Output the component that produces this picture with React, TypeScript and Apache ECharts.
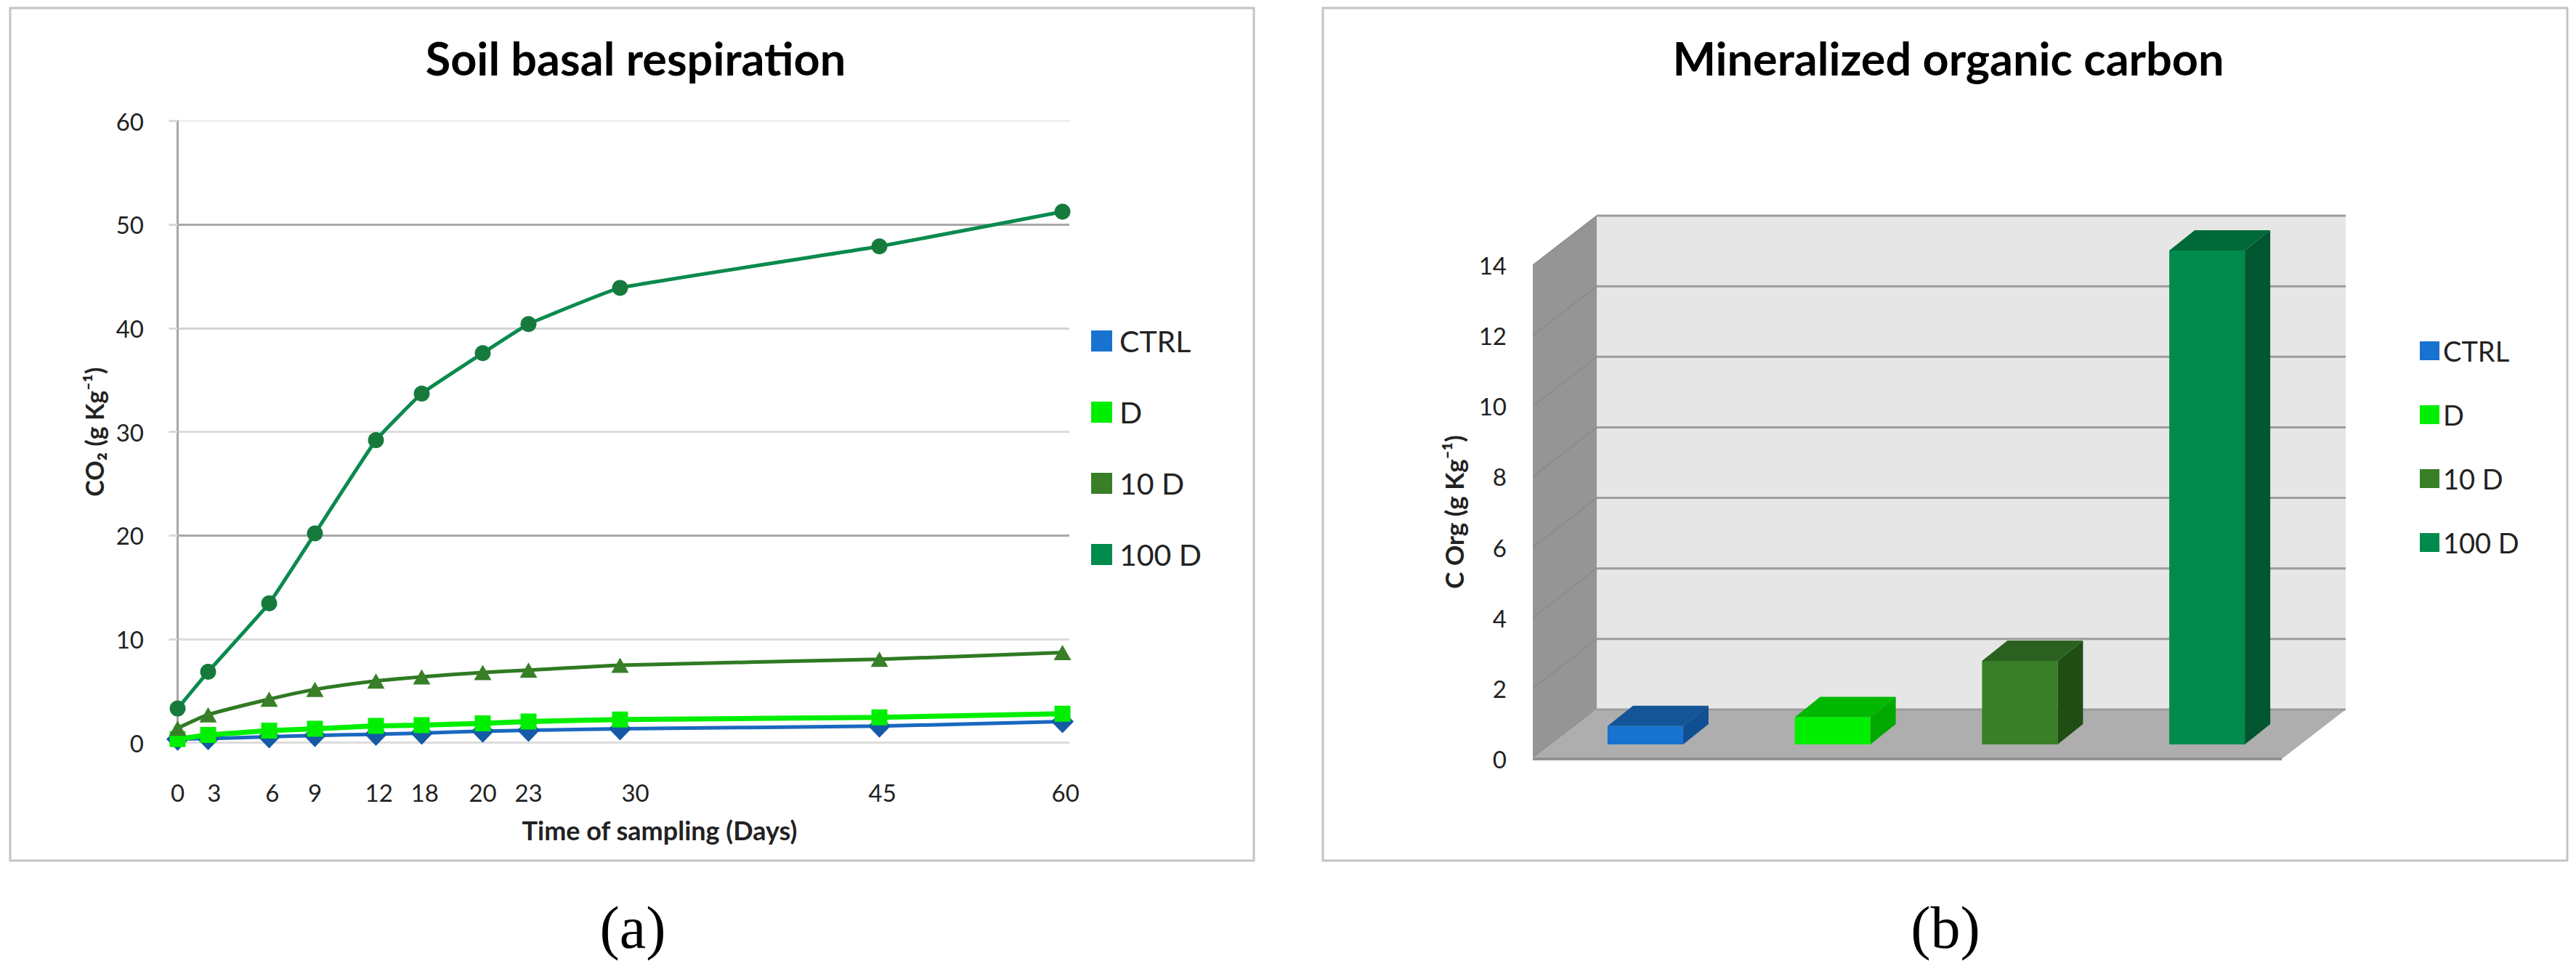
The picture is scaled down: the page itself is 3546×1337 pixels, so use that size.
import React, { useEffect, useRef } from "react";
import * as echarts from "echarts";

const seriesNames = ["CTRL", "D", "10 D", "100 D"];
const sampleLabels = ["0", "3", "6", "9", "12", "18", "20", "23", "30", "45", "60"];
// horizontal place of each sampling point on the (unevenly spaced) original axis
const samplePositions = [0, 2, 6, 9, 13, 16, 20, 23, 29, 46, 58];
const labelPositions = [0, 2.4, 6.2, 9, 13.2, 16.2, 20, 23, 30, 46.2, 58.2];
const ctrlValues = [0.35, 0.4, 0.58, 0.7, 0.82, 0.93, 1.12, 1.2, 1.35, 1.6, 2.05];
const dValues = [0.35, 0.75, 1.17, 1.35, 1.63, 1.7, 1.87, 2.05, 2.24, 2.45, 2.8];
const d10Values = [1.4, 2.7, 4.2, 5.14, 5.96, 6.36, 6.78, 7.0, 7.48, 8.06, 8.7];
const d100Values = [3.3, 6.85, 13.45, 20.2, 29.2, 33.7, 37.6, 40.4, 43.9, 47.9, 51.25];
const carbonValues = [0.52, 0.77, 2.37, 14.0];
const carbonTicks = [2, 4, 6, 8, 10, 12, 14];

const legendColors = ["#1872d0", "#00ef00", "#387f28", "#008a4c"];
const topColors = ["#135597", "#00b800", "#2a6120", "#00693a"];
const sideColors = ["#104f92", "#00a800", "#1f4d14", "#00562f"];

const FONT = "Lato";
const DEPTH_X = 88;
const DEPTH_Y = -68;

function lineSeries(i: number, values: number[], symbol: string, size: number | number[], lineColor: string, markerColor: string, smooth: number, width: number) {
  return {
    type: "line",
    name: seriesNames[i],
    xAxisIndex: 0,
    yAxisIndex: 0,
    data: samplePositions.map((p, k) => [p, values[k]]),
    symbol,
    symbolSize: size,
    showSymbol: true,
    smooth,
    clip: false,
    lineStyle: { color: lineColor, width },
    itemStyle: { color: markerColor },
    z: 3 + i,
  };
}

function barSeries(i: number) {
  return {
    type: "custom",
    name: seriesNames[i],
    xAxisIndex: 1,
    yAxisIndex: 1,
    data: [[i, carbonValues[i]]],
    encode: { x: 0, y: 1 },
    itemStyle: { color: legendColors[i] },
    z: 5,
    renderItem: (_p: any, api: any) => {
      const base = api.coord([api.value(0), 0]);
      const top = api.coord([api.value(0), api.value(1)]);
      const halfW = 52;
      const ox = 26;
      const oy = -20;
      const dx = 35;
      const dy = -28;
      const l = base[0] + ox - halfW;
      const r = base[0] + ox + halfW;
      const b = base[1] + oy;
      const t = top[1] + oy;
      return {
        type: "group",
        children: [
          { type: "polygon", shape: { points: [[l, t], [l + dx, t + dy], [r + dx, t + dy], [r, t]] }, style: { fill: topColors[i] } },
          { type: "polygon", shape: { points: [[r, t], [r + dx, t + dy], [r + dx, b + dy], [r, b]] }, style: { fill: sideColors[i] } },
          { type: "rect", shape: { x: l, y: t, width: r - l, height: b - t }, style: { fill: legendColors[i] } },
        ],
      };
    },
  };
}

const wallSeries = {
  type: "custom",
  name: "walls",
  xAxisIndex: 1,
  yAxisIndex: 1,
  data: [[0, 0]],
  encode: { x: 0, y: 1 },
  silent: true,
  z: 1,
  renderItem: (params: any, api: any) => {
    const cs = params.coordSys;
    const x0 = cs.x;
    const x1 = cs.x + cs.width;
    const y0 = api.coord([0, 0])[1];
    const yTop = api.coord([0, 14])[1];
    const children: any[] = [
      { type: "polygon", shape: { points: [[x0 + DEPTH_X, yTop + DEPTH_Y], [x1 + DEPTH_X, yTop + DEPTH_Y], [x1 + DEPTH_X, y0 + DEPTH_Y], [x0 + DEPTH_X, y0 + DEPTH_Y]] }, style: { fill: "#e6e6e6" } },
      { type: "polygon", shape: { points: [[x0, yTop], [x0 + DEPTH_X, yTop + DEPTH_Y], [x0 + DEPTH_X, y0 + DEPTH_Y], [x0, y0]] }, style: { fill: "#959595" } },
      { type: "polygon", shape: { points: [[x0, y0], [x0 + DEPTH_X, y0 + DEPTH_Y], [x1 + DEPTH_X, y0 + DEPTH_Y], [x1, y0]] }, style: { fill: "#aeaeae" } },
      { type: "line", shape: { x1: x0, y1: y0, x2: x1, y2: y0 }, style: { stroke: "#929292", lineWidth: 4 } },
      { type: "line", shape: { x1: x0 + DEPTH_X, y1: y0 + DEPTH_Y, x2: x1 + DEPTH_X, y2: y0 + DEPTH_Y }, style: { stroke: "#9c9c9c", lineWidth: 3 } },
    ];
    carbonTicks.forEach((v) => {
      const y = api.coord([0, v])[1];
      children.push({ type: "line", shape: { x1: x0 + DEPTH_X, y1: y + DEPTH_Y, x2: x1 + DEPTH_X, y2: y + DEPTH_Y }, style: { stroke: "#9c9c9c", lineWidth: 3 } });
      children.push({ type: "line", shape: { x1: x0, y1: y, x2: x0 + DEPTH_X, y2: y + DEPTH_Y }, style: { stroke: "#8a8a8a", lineWidth: 1.5 } });
    });
    return { type: "group", children };
  },
};

const option: any = {
  animation: false,
  backgroundColor: "#ffffff",
  title: [
    { text: "Soil basal respiration", left: 870, top: 43, textAlign: "center", textStyle: { fontFamily: FONT, fontWeight: "bold", fontSize: 63, color: "#000" } },
    { text: "Mineralized organic carbon", left: 2677, top: 43, textAlign: "center", textStyle: { fontFamily: FONT, fontWeight: "bold", fontSize: 63, color: "#000" } },
  ],
  legend: [
    {
      left: 1497, top: 444, orient: "vertical", icon: "rect", itemWidth: 29, itemHeight: 29, itemGap: 57,
      selectedMode: false,
      textStyle: { fontFamily: FONT, fontSize: 41, color: "#222", padding: [0, 0, 0, 5] },
      data: seriesNames.map((name, i) => ({ name, itemStyle: { color: legendColors[i] } })),
    },
    {
      left: 3326, top: 459, orient: "vertical", icon: "rect", itemWidth: 27, itemHeight: 26, itemGap: 50,
      selectedMode: false,
      textStyle: { fontFamily: FONT, fontSize: 38, color: "#222", padding: [0, 0, 0, 0] },
      data: seriesNames.map((name, i) => ({ name, itemStyle: { color: legendColors[i] } })),
    },
  ],
  grid: [
    { left: 234, top: 166.7, width: 1238, height: 856 },
    { left: 2110, top: 365, width: 1031, height: 680 },
  ],
  xAxis: [
    {
      type: "value", gridIndex: 0, min: -0.5, max: 58.45,
      name: "Time of sampling (Days)", nameLocation: "middle", nameGap: 102,
      nameTextStyle: { fontFamily: FONT, fontWeight: "bold", fontSize: 36, color: "#222", padding: [0, 0, 0, 110] },
      axisLine: { show: false }, axisTick: { show: false }, splitLine: { show: false },
      axisLabel: {
        customValues: labelPositions, margin: 52, fontFamily: FONT, fontSize: 33, color: "#222",
        formatter: (v: number) => sampleLabels[labelPositions.indexOf(v)],
      },
    },
    {
      type: "category", gridIndex: 1, data: seriesNames,
      axisLine: { show: false }, axisTick: { show: false }, axisLabel: { show: false }, splitLine: { show: false },
    },
  ],
  yAxis: [
    {
      type: "value", gridIndex: 0, min: 0, max: 60, interval: 10,
      name: "CO₂ (g Kg⁻¹)", nameLocation: "middle", nameGap: 88,
      nameTextStyle: { fontFamily: FONT, fontWeight: "bold", fontSize: 34, color: "#222" },
      axisLine: { show: true, lineStyle: { color: "#a6a6a6", width: 3 } },
      axisTick: { show: true, length: 12, lineStyle: { color: "#d9d9d9", width: 3 } },
      axisLabel: { margin: 36, fontFamily: FONT, fontSize: 33, color: "#222" },
      splitLine: { show: true, lineStyle: { width: 3, color: ["#dcdcdc", "#dcdcdc", "#a8a8a8", "#dcdcdc", "#d4d4d4", "#a8a8a8", "#efefef"] } },
    },
    {
      type: "value", gridIndex: 1, min: 0, max: 14, interval: 2,
      name: "C Org (g Kg⁻¹)", nameLocation: "middle", nameGap: 92,
      nameTextStyle: { fontFamily: FONT, fontWeight: "bold", fontSize: 35, color: "#222" },
      axisLine: { show: false }, axisTick: { show: false }, splitLine: { show: false },
      axisLabel: { margin: 36, fontFamily: FONT, fontSize: 33, color: "#222" },
    },
  ],
  graphic: [
    { type: "rect", shape: { x: 14, y: 11, width: 1712, height: 1174 }, style: { fill: "none", stroke: "#c4c4c4", lineWidth: 3 }, z: -1 },
    { type: "rect", shape: { x: 1821, y: 11, width: 1713, height: 1174 }, style: { fill: "none", stroke: "#c4c4c4", lineWidth: 3 }, z: -1 },
    { type: "text", x: 871, y: 1277, style: { text: "(a)", font: "82px 'Liberation Serif'", fill: "#000", textAlign: "center", textVerticalAlign: "middle" } },
    { type: "text", x: 2678, y: 1277, style: { text: "(b)", font: "82px 'Liberation Serif'", fill: "#000", textAlign: "center", textVerticalAlign: "middle" } },
  ],
  series: [
    lineSeries(0, ctrlValues, "diamond", [31, 32], "#1a68c0", "#145aa5", 0.1, 5),
    lineSeries(2, d10Values, "triangle", [24, 21], "#2f7a22", "#387f28", 0.2, 5),
    lineSeries(3, d100Values, "circle", 22, "#0b8a4e", "#167a3c", 0.1, 5),
    lineSeries(1, dValues, "rect", 22, "#00ef00", "#00ef00", 0.1, 7),
    wallSeries,
    barSeries(0),
    barSeries(1),
    barSeries(2),
    barSeries(3),
  ],
};

export default function App() {
  const ref = useRef<HTMLDivElement>(null);
  useEffect(() => {
    document.body.style.margin = "0";
    const chart = echarts.init(ref.current!, undefined, { renderer: "svg" });
    chart.setOption(option);
    return () => chart.dispose();
  }, []);
  return <div ref={ref} style={{ width: 3546, height: 1337 }} />;
}
